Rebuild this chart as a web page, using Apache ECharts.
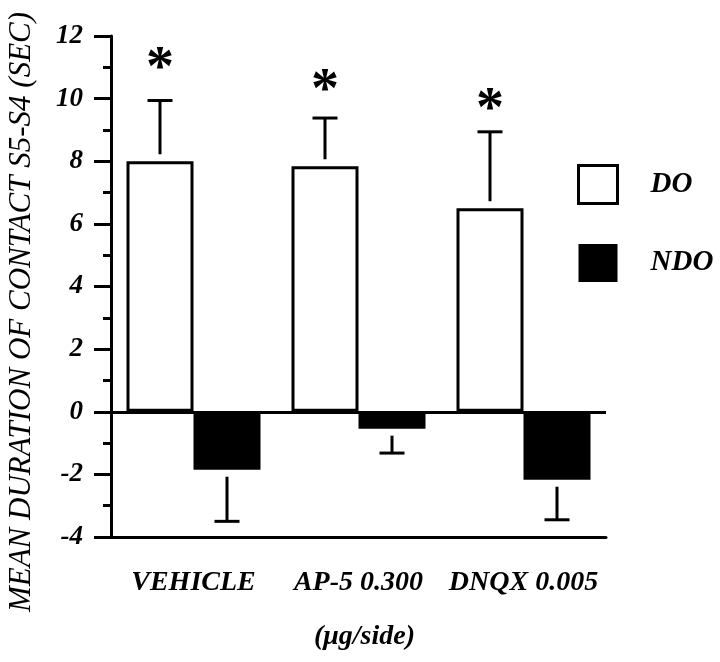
<!DOCTYPE html>
<html>
<head>
<meta charset="utf-8">
<script src="https://cdn.jsdelivr.net/npm/echarts@6/dist/echarts.min.js"></script>
<style>html,body{margin:0;padding:0;background:#fff}#c{width:720px;height:662px}</style>
</head>
<body>
<div id="c"></div>
<script>
const categories = ['VEHICLE', 'AP-5 0.300', 'DNQX 0.005'];
const doMean = [8.0, 7.84, 6.5];
const doSem = [1.94, 1.54, 2.44];
const ndoMean = [-1.85, -0.54, -2.17];
const ndoSem = [1.65, 0.78, 1.28];
const sigY = [11.3, 10.6, 10.0];
const yTicks = { min: -4, max: 12, interval: 2 };

const FONT = '"Liberation Serif", "Times New Roman", serif';
const BAR_W = 67;
const GAP = 7;
const CAP = 25;

function errSeries(name, mean, sem, sign, offset) {
  return {
    name: name, type: 'custom', silent: true, z: 5,
    data: mean.map((m, i) => [i, m, sem[i]]),
    renderItem: function (params, api) {
      const c = api.value(0), m = api.value(1), e = api.value(2);
      const base = api.coord([c, m]);
      const tip = api.coord([c, m + sign * e]);
      const x = base[0] + offset;
      const y0 = base[1] - sign * GAP;
      return {
        type: 'group', children: [
          { type: 'line', shape: { x1: x, y1: y0, x2: x, y2: tip[1] }, style: { stroke: '#000', lineWidth: 3 } },
          { type: 'line', shape: { x1: x - CAP / 2, y1: tip[1], x2: x + CAP / 2, y2: tip[1] }, style: { stroke: '#000', lineWidth: 3 } }
        ]
      };
    }
  };
}

const chart = echarts.init(document.getElementById('c'));
chart.setOption({
  animation: false,
  backgroundColor: '#fff',
  grid: { left: 111, right: 114, top: 36, bottom: 125 },
  legend: {
    orient: 'vertical', left: 572, top: 159,
    itemWidth: 39, itemHeight: 38, itemGap: 39,
    icon: 'rect', selectedMode: false,
    textStyle: { fontFamily: FONT, fontStyle: 'italic', fontWeight: 'bold', fontSize: 29, color: '#000', padding: [0, 0, 0, 28] },
    data: [
      { name: 'DO', itemStyle: { color: '#fff', borderColor: '#000', borderWidth: 3 } },
      { name: 'NDO', itemStyle: { color: '#000', borderColor: '#000', borderWidth: 0 } }
    ]
  },
  xAxis: {
    type: 'category', data: categories,
    axisLine: { onZero: false, lineStyle: { color: '#000', width: 3 } },
    axisTick: { alignWithLabel: true, length: 18, lineStyle: { color: '#000', width: 3 } },
    axisLabel: { interval: 0, margin: 32, color: '#000', fontFamily: FONT, fontStyle: 'italic', fontWeight: 'bold', fontSize: 28 },
    name: '(μg/side)', nameLocation: 'middle', nameGap: 86,
    nameTextStyle: { color: '#000', fontFamily: FONT, fontStyle: 'italic', fontWeight: 'bold', fontSize: 28, padding: [0, 0, 0, 12] }
  },
  yAxis: {
    type: 'value', min: yTicks.min, max: yTicks.max, interval: yTicks.interval,
    splitLine: { show: false },
    axisLine: { show: true, lineStyle: { color: '#000', width: 3 } },
    axisTick: { show: true, length: 17, lineStyle: { color: '#000', width: 3 } },
    minorTick: { show: true, splitNumber: 2, length: 8, lineStyle: { color: '#000', width: 3 } },
    axisLabel: { margin: 28, color: '#000', fontFamily: FONT, fontStyle: 'italic', fontWeight: 'bold', fontSize: 27 }
  },
  graphic: [{
    type: 'text', x: 22, y: 312, rotation: Math.PI / 2,
    style: {
      text: 'MEAN DURATION OF CONTACT S5-S4 (SEC)', fill: '#000',
      font: 'italic 31px ' + FONT, textAlign: 'center', textVerticalAlign: 'middle'
    }
  }],
  series: [
    {
      name: 'DO', type: 'bar', data: doMean, barWidth: BAR_W, barGap: '0%',
      itemStyle: { color: '#fff', borderColor: '#000', borderWidth: 3 },
      markLine: {
        silent: true, symbol: 'none', label: { show: false },
        lineStyle: { color: '#000', width: 3, type: 'solid' },
        data: [{ yAxis: 0 }]
      }
    },
    {
      name: 'NDO', type: 'bar', data: ndoMean, barWidth: BAR_W, barGap: '0%',
      itemStyle: { color: '#000', borderColor: '#000', borderWidth: 0 }
    },
    errSeries('DO err', doMean, doSem, 1, -BAR_W / 2),
    errSeries('NDO err', ndoMean, ndoSem, -1, BAR_W / 2),
    {
      name: 'sig', type: 'custom', silent: true, z: 6,
      data: sigY.map((v, i) => [i, v]),
      renderItem: function (params, api) {
        const p = api.coord([api.value(0), api.value(1)]);
        return {
          type: 'text',
          style: {
            text: '*', x: p[0] - BAR_W / 2, y: p[1] + 13, fill: '#000',
            font: 'bold 56px ' + FONT, textAlign: 'center', textVerticalAlign: 'middle'
          }
        };
      }
    }
  ]
});
</script>
</body>
</html>
